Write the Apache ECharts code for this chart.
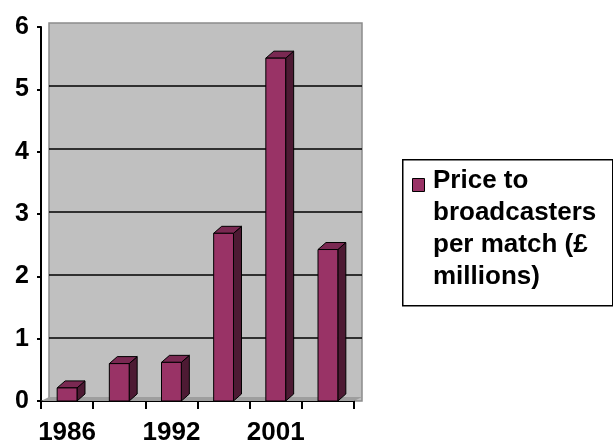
<!DOCTYPE html>
<html>
<head>
<meta charset="utf-8">
<script src="https://cdn.jsdelivr.net/npm/echarts@6/dist/echarts.min.js"></script>
<style>html,body{margin:0;padding:0;background:#fff}#c{width:613px;height:446px}</style>
</head>
<body>
<div id="c"></div>
<script>
var categories = ['1986', '1988', '1992', '1997', '2001', '2004'];
var prices = [0.21, 0.6, 0.62, 2.69, 5.5, 2.43];
var yTicks = [0, 1, 2, 3, 4, 5, 6];
var seriesName = 'Price to\nbroadcasters\nper match (£\nmillions)';

var FRONT = '#993366', TOP = '#7a2952', SIDE = '#4d1a33';
var DX = 8, DY = -7;

var chart = echarts.init(document.getElementById('c'));
var font = 'Liberation Sans, Arial, sans-serif';

chart.setOption({
  animation: false,
  backgroundColor: '#fff',
  grid: [
    { left: 49, right: 251, top: 23, bottom: 45, show: true, backgroundColor: '#c0c0c0', borderColor: '#8c8c8c', borderWidth: 1.5 },
    { left: 41, right: 259, top: 27, bottom: 41 }
  ],
  xAxis: [
    { gridIndex: 0, type: 'category', data: categories, show: false },
    {
      gridIndex: 1, type: 'category', data: categories,
      axisLine: { lineStyle: { color: '#000', width: 2 } },
      axisTick: { show: true, interval: 0, length: 8, lineStyle: { color: '#000', width: 2 } },
      axisLabel: { interval: 1, color: '#000', fontFamily: font, fontWeight: 'bold', fontSize: 26, margin: 19 }
    }
  ],
  yAxis: [
    {
      gridIndex: 0, type: 'value', min: yTicks[0], max: yTicks[yTicks.length - 1], interval: 1,
      axisLine: { show: false }, axisTick: { show: false }, axisLabel: { show: false },
      splitLine: { show: true, lineStyle: { color: ['transparent', '#000', '#000', '#000', '#000', '#000', 'transparent'], width: 1.6 } }
    },
    {
      gridIndex: 1, type: 'value', min: yTicks[0], max: yTicks[yTicks.length - 1], interval: 1,
      axisLine: { show: true, lineStyle: { color: '#000', width: 2 } },
      axisTick: { show: true, length: 4, lineStyle: { color: '#000', width: 2 } },
      splitLine: { show: false },
      axisLabel: { color: '#000', fontFamily: font, fontWeight: 'bold', fontSize: 25, margin: 12 }
    }
  ],
  series: [
    {
      type: 'custom', xAxisIndex: 1, yAxisIndex: 1, data: [[0, 0]], silent: true, z: 1,
      renderItem: function (params, api) {
        var cs = params.coordSys;
        var yb = cs.y + cs.height;
        return {
          type: 'polygon',
          shape: { points: [[cs.x, yb], [cs.x + DX, yb - 4], [cs.x + cs.width + DX, yb - 4], [cs.x + cs.width, yb]] },
          style: { fill: '#9e9e9e', stroke: null }
        };
      }
    },
    {
      name: seriesName, type: 'custom', xAxisIndex: 1, yAxisIndex: 1, z: 3,
      data: prices.map(function (v, i) { return [i, v]; }),
      renderItem: function (params, api) {
        var i = api.value(0), v = api.value(1);
        var t = api.coord([i, v]);
        var b = api.coord([i, 0]);
        var band = api.size([1, 0])[0];
        var w = band * 0.38;
        var x0 = t[0] - w / 2, x1 = x0 + w;
        var yt = t[1], yb = b[1];
        var st = { stroke: '#000', lineWidth: 1 };
        return {
          type: 'group',
          children: [
            { type: 'polygon', shape: { points: [[x1, yt], [x1 + DX, yt + DY], [x1 + DX, yb + DY], [x1, yb]] }, style: Object.assign({ fill: SIDE }, st) },
            { type: 'polygon', shape: { points: [[x0, yt], [x0 + DX, yt + DY], [x1 + DX, yt + DY], [x1, yt]] }, style: Object.assign({ fill: TOP }, st) },
            { type: 'rect', shape: { x: x0, y: yt, width: w, height: yb - yt }, style: Object.assign({ fill: FRONT }, st) }
          ]
        };
      }
    }
  ],
  graphic: [
    { type: 'rect', left: 402, top: 159, shape: { width: 210, height: 146 }, style: { fill: '#fff', stroke: '#000', lineWidth: 1.5 } },
    { type: 'rect', left: 412, top: 178, shape: { width: 12, height: 13 }, style: { fill: FRONT, stroke: '#000', lineWidth: 1 } },
    { type: 'text', left: 433, top: 165, style: { text: seriesName, fill: '#000', font: 'bold 26px ' + font, lineHeight: 32 } }
  ]
});
</script>
</body>
</html>
